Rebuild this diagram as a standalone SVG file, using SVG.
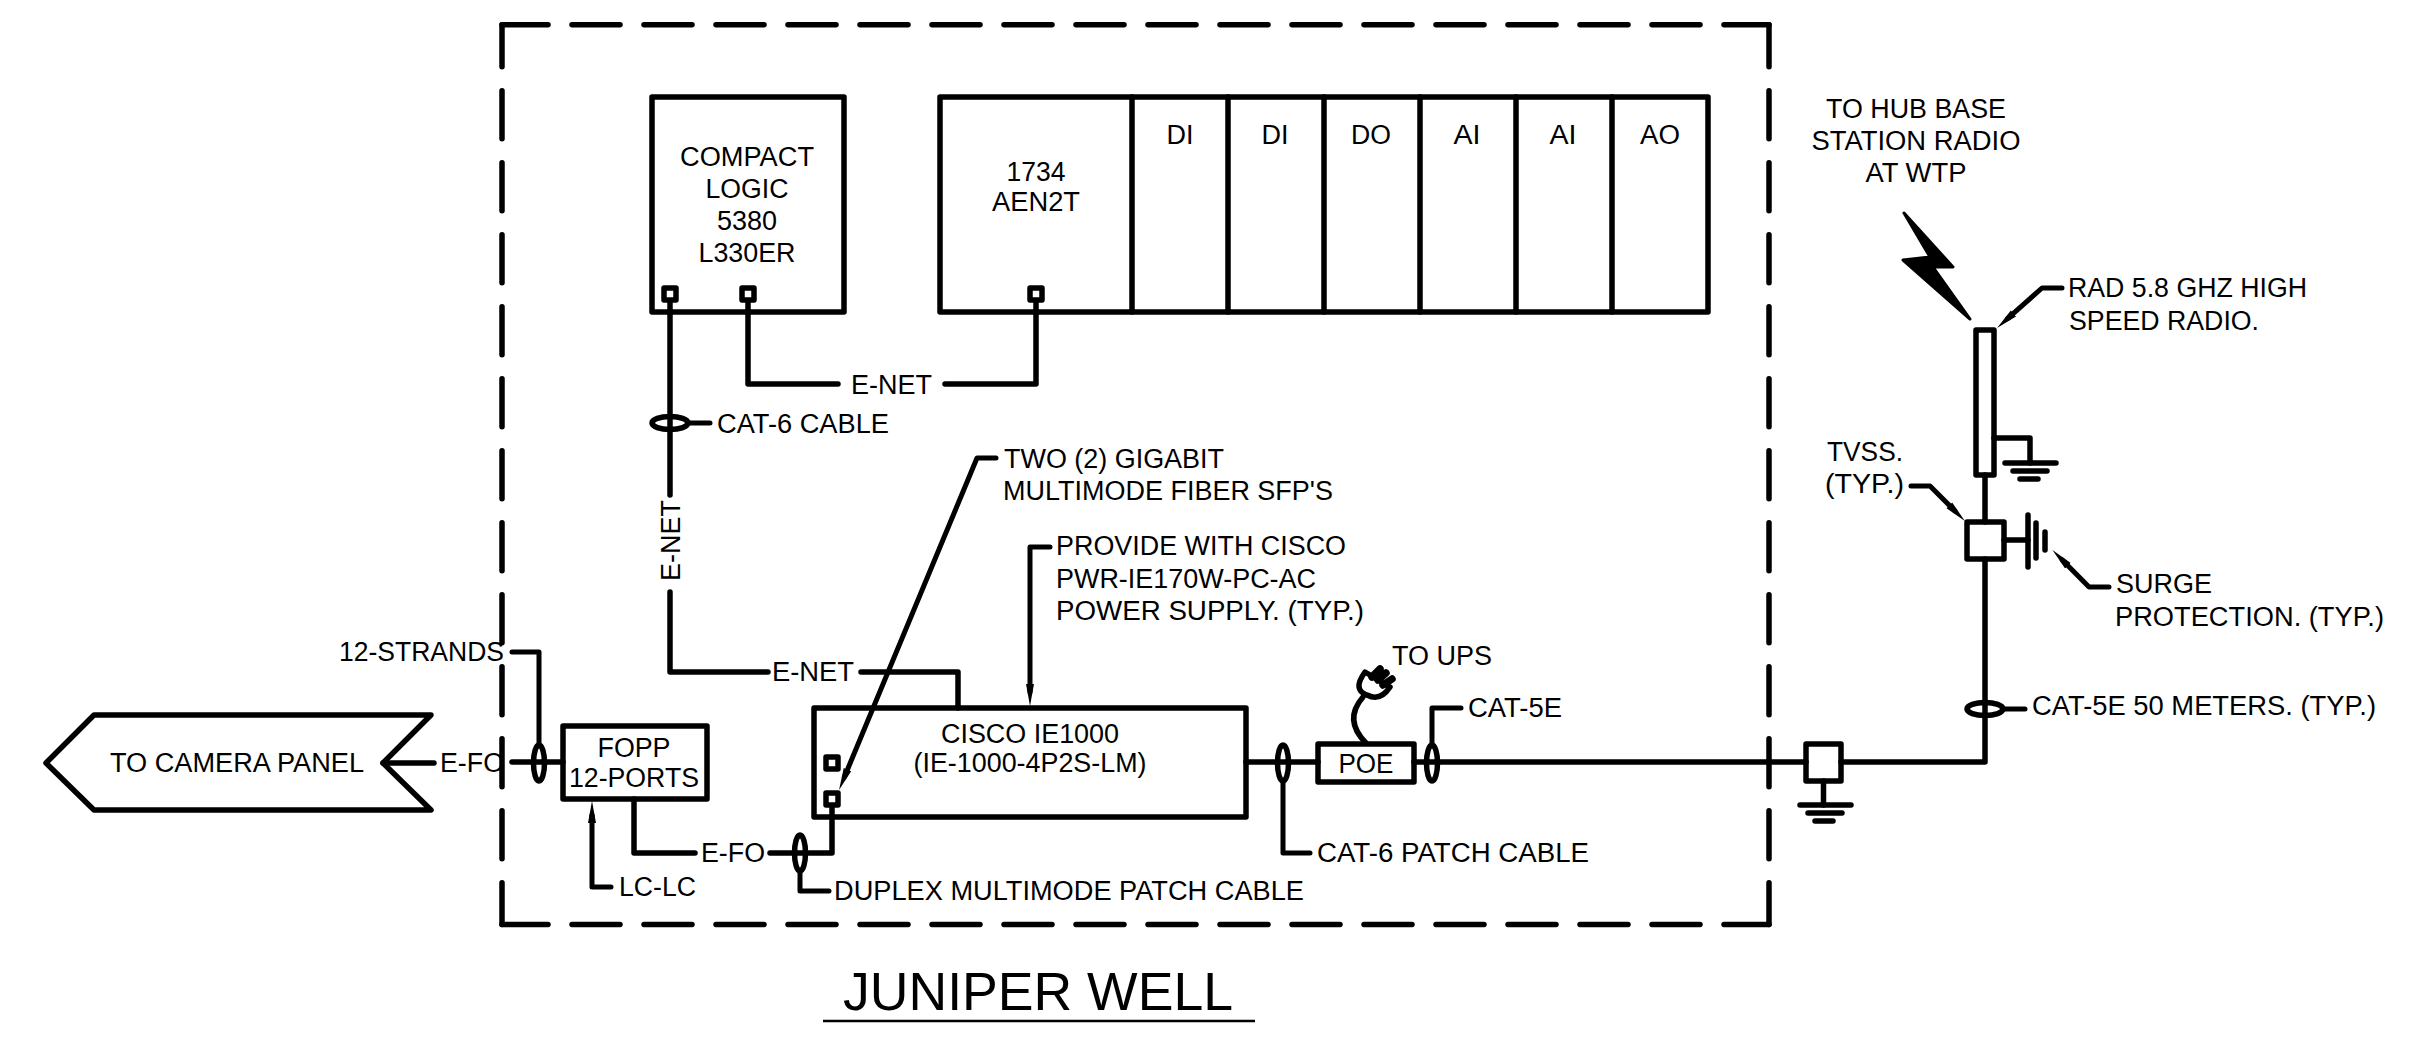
<svg xmlns="http://www.w3.org/2000/svg" width="2422" height="1038" viewBox="0 0 2422 1038">
<style>
text{font-family:"Liberation Sans",Arial,sans-serif;font-size:27px;fill:#000}
.c{text-anchor:middle}
.s,.w,.l,.d{fill:none;stroke:#000;stroke-width:5.5;stroke-linecap:round;stroke-linejoin:round}
.w{fill:#fff}
.l{stroke-width:5}
.e{fill:none;stroke:#000;stroke-width:5.5}
.a{marker-end:url(#arrow)}
.p{fill:none;stroke:#000;stroke-width:7.5;stroke-linecap:round}
</style>
<defs>
<marker id="arrow" markerUnits="userSpaceOnUse" markerWidth="24" markerHeight="10" viewBox="0 0 24 10" refX="8" refY="5" orient="auto"><path d="M0 1L22 5L0 9Z" fill="#000"/></marker>
<g id="ground"><path class="s" d="M-23 0H28M-15 8H19M-8 16H10"/></g>
</defs>
<rect width="2422" height="1038" fill="#fff"/>
<g id="panel-boundary">
<path class="d" stroke-dasharray="48 24" stroke-dashoffset="2" d="M502 24.7H1769M502 924.5H1769"/>
<path class="d" stroke-dasharray="48 24" stroke-dashoffset="6" d="M502 24.7V924.5M1769 24.7V924.5"/>
</g>
<g id="camera-panel"><path class="w" d="M46 763L94 715H431L383 763L431 810H94Z"/><text class="c" x="237" y="772" textLength="254" lengthAdjust="spacingAndGlyphs">TO CAMERA PANEL</text></g>
<g id="fopp"><rect class="w" x="563" y="726" width="144" height="73"/><text class="c" x="634" y="757" textLength="73" lengthAdjust="spacingAndGlyphs">FOPP</text><text class="c" x="634" y="787" textLength="130" lengthAdjust="spacingAndGlyphs">12-PORTS</text></g>
<g id="compactlogic"><rect class="w" x="652" y="97" width="192" height="215"/>
<text class="c" x="747" y="166" textLength="134" lengthAdjust="spacingAndGlyphs">COMPACT</text><text class="c" x="747" y="198" textLength="83" lengthAdjust="spacingAndGlyphs">LOGIC</text><text class="c" x="747" y="230" textLength="60" lengthAdjust="spacingAndGlyphs">5380</text><text class="c" x="747" y="262" textLength="97" lengthAdjust="spacingAndGlyphs">L330ER</text>
<rect class="w" x="664" y="288" width="12" height="12"/><rect class="w" x="742" y="288" width="12" height="12"/></g>
<g id="io-rack"><rect class="w" x="940" y="97" width="768" height="215"/>
<path class="s" d="M1132 97V312M1228 97V312M1324 97V312M1420 97V312M1516 97V312M1612 97V312"/>
<text class="c" x="1036" y="181" textLength="59" lengthAdjust="spacingAndGlyphs">1734</text><text class="c" x="1036" y="211" textLength="88" lengthAdjust="spacingAndGlyphs">AEN2T</text>
<text class="c" x="1180" y="144" textLength="27" lengthAdjust="spacingAndGlyphs">DI</text><text class="c" x="1275" y="144" textLength="27" lengthAdjust="spacingAndGlyphs">DI</text><text class="c" x="1371" y="144" textLength="40" lengthAdjust="spacingAndGlyphs">DO</text><text class="c" x="1467" y="144" textLength="27" lengthAdjust="spacingAndGlyphs">AI</text><text class="c" x="1563" y="144" textLength="27" lengthAdjust="spacingAndGlyphs">AI</text><text class="c" x="1660" y="144" textLength="40" lengthAdjust="spacingAndGlyphs">AO</text>
<rect class="w" x="1030" y="288" width="12" height="12"/></g>
<g id="cisco"><rect class="w" x="814" y="708" width="432" height="109"/>
<text class="c" x="1030" y="743" textLength="178" lengthAdjust="spacingAndGlyphs">CISCO IE1000</text><text class="c" x="1030" y="772" textLength="233" lengthAdjust="spacingAndGlyphs">(IE-1000-4P2S-LM)</text>
<rect class="w" x="826" y="757" width="12" height="12"/><rect class="w" x="826" y="793" width="12" height="12"/></g>
<g id="poe"><rect class="w" x="1318" y="744" width="96" height="38"/><text class="c" x="1366" y="773" textLength="55" lengthAdjust="spacingAndGlyphs">POE</text>
<path class="s" d="M1366 743Q1343 720 1363 697"/>
<path class="w" d="M1365 672Q1352 690 1367 695Q1380 702 1390 687Z"/>
<path class="p" d="M1372 677L1380 669M1378 680L1386 673M1383 685L1392 679"/></g>
<g id="junction"><rect class="w" x="1806" y="744" width="35" height="37"/><use href="#ground" x="1823" y="805"/></g>
<g id="radio"><rect class="w" x="1976" y="330" width="18" height="145"/><use href="#ground" x="2028" y="463"/>
<path d="M1904 213L1953 267L1933 267L1970 319L1903 260L1930 257Z" fill="#000" stroke="#000" stroke-width="3" stroke-linejoin="round"/></g>
<g id="tvss"><rect class="w" x="1967" y="522" width="37" height="37"/><path class="s" d="M2028 515V567M2036 523V558M2045 532V550"/></g>
<g id="connectors">
<path class="s" d="M670 302V495M670 592V672H768"/>
<path class="s" d="M748 302V384H838M945 384H1036V302"/>
<path class="s" d="M861 672H958V708"/>
<path class="s" d="M383 763H434M512 762H563"/>
<path class="s" d="M634 799V853H695M770 853H832V806"/>
<path class="s" d="M1246 762H1318M1414 762H1806M1841 762H1985V559M1985 522V475"/>
<path class="s" d="M1823.5 781V805"/>
<path class="s" d="M1994 438H2030V463"/>
<path class="s" d="M2004 540H2028"/>
<path class="l" d="M539 744V652H512"/>
<path class="l" d="M800 873V891H829"/>
<path class="l" d="M1283 783V853H1310"/>
<path class="l" d="M1432 743V708H1461"/>
<path class="l" d="M688 423H710"/>
<path class="l" d="M2003 709H2025"/>
<path class="l a" d="M611 887H592V815"/>
<path class="l a" d="M1050 547H1030V692"/>
<path class="l a" d="M996 458H977L844.4 777"/>
<path class="l a" d="M2062 288H2042L2007.5 318.7"/>
<path class="l a" d="M1911 486H1930L1955 511"/>
<path class="l a" d="M2109 587H2089L2062.3 560"/>
<ellipse class="e" cx="670" cy="423" rx="18" ry="6.5"/>
<ellipse class="e" cx="1985" cy="709" rx="18" ry="6.5"/>
<ellipse class="e" cx="539" cy="763" rx="5.5" ry="18"/>
<ellipse class="e" cx="800" cy="853" rx="5.5" ry="18"/>
<ellipse class="e" cx="1283" cy="763" rx="5.5" ry="18"/>
<ellipse class="e" cx="1432" cy="763" rx="5.5" ry="18"/>
</g>
<g id="labels">
<text x="339" y="661" textLength="165" lengthAdjust="spacingAndGlyphs">12-STRANDS</text>
<text x="440" y="772" textLength="64" lengthAdjust="spacingAndGlyphs">E-FO</text>
<text x="701" y="862" textLength="64" lengthAdjust="spacingAndGlyphs">E-FO</text>
<text x="619" y="896" textLength="77" lengthAdjust="spacingAndGlyphs">LC-LC</text>
<text x="851" y="394" textLength="81" lengthAdjust="spacingAndGlyphs">E-NET</text>
<text x="772" y="681" textLength="82" lengthAdjust="spacingAndGlyphs">E-NET</text>
<text transform="translate(680 581) rotate(-90)" textLength="81" lengthAdjust="spacingAndGlyphs">E-NET</text>
<text x="717" y="433" textLength="172" lengthAdjust="spacingAndGlyphs">CAT-6 CABLE</text>
<text x="1004" y="468" textLength="220" lengthAdjust="spacingAndGlyphs">TWO (2) GIGABIT</text>
<text x="1003" y="500" textLength="330" lengthAdjust="spacingAndGlyphs">MULTIMODE FIBER SFP'S</text>
<text x="1056" y="555" textLength="290" lengthAdjust="spacingAndGlyphs">PROVIDE WITH CISCO</text>
<text x="1056" y="588" textLength="260" lengthAdjust="spacingAndGlyphs">PWR-IE170W-PC-AC</text>
<text x="1056" y="620" textLength="308" lengthAdjust="spacingAndGlyphs">POWER SUPPLY. (TYP.)</text>
<text x="1392" y="665" textLength="100" lengthAdjust="spacingAndGlyphs">TO UPS</text>
<text x="1468" y="717" textLength="94" lengthAdjust="spacingAndGlyphs">CAT-5E</text>
<text x="1317" y="862" textLength="272" lengthAdjust="spacingAndGlyphs">CAT-6 PATCH CABLE</text>
<text x="834" y="900" textLength="470" lengthAdjust="spacingAndGlyphs">DUPLEX MULTIMODE PATCH CABLE</text>
<text x="2032" y="715" textLength="344" lengthAdjust="spacingAndGlyphs">CAT-5E 50 METERS. (TYP.)</text>
<text x="2116" y="593" textLength="96" lengthAdjust="spacingAndGlyphs">SURGE</text>
<text x="2115" y="626" textLength="269" lengthAdjust="spacingAndGlyphs">PROTECTION. (TYP.)</text>
<text x="1827" y="461" textLength="76" lengthAdjust="spacingAndGlyphs">TVSS.</text>
<text x="1825" y="493" textLength="79" lengthAdjust="spacingAndGlyphs">(TYP.)</text>
<text x="2068" y="297" textLength="239" lengthAdjust="spacingAndGlyphs">RAD 5.8 GHZ HIGH</text>
<text x="2069" y="330" textLength="190" lengthAdjust="spacingAndGlyphs">SPEED RADIO.</text>
<text class="c" x="1916" y="118" textLength="180" lengthAdjust="spacingAndGlyphs">TO HUB BASE</text>
<text class="c" x="1916" y="150" textLength="209" lengthAdjust="spacingAndGlyphs">STATION RADIO</text>
<text class="c" x="1916" y="182" textLength="101" lengthAdjust="spacingAndGlyphs">AT WTP</text>
</g>
<g id="title"><text x="843" y="1010" style="font-size:53px" textLength="390" lengthAdjust="spacingAndGlyphs">JUNIPER WELL</text><path d="M823 1021H1255" fill="none" stroke="#000" stroke-width="2.5"/></g>
</svg>
